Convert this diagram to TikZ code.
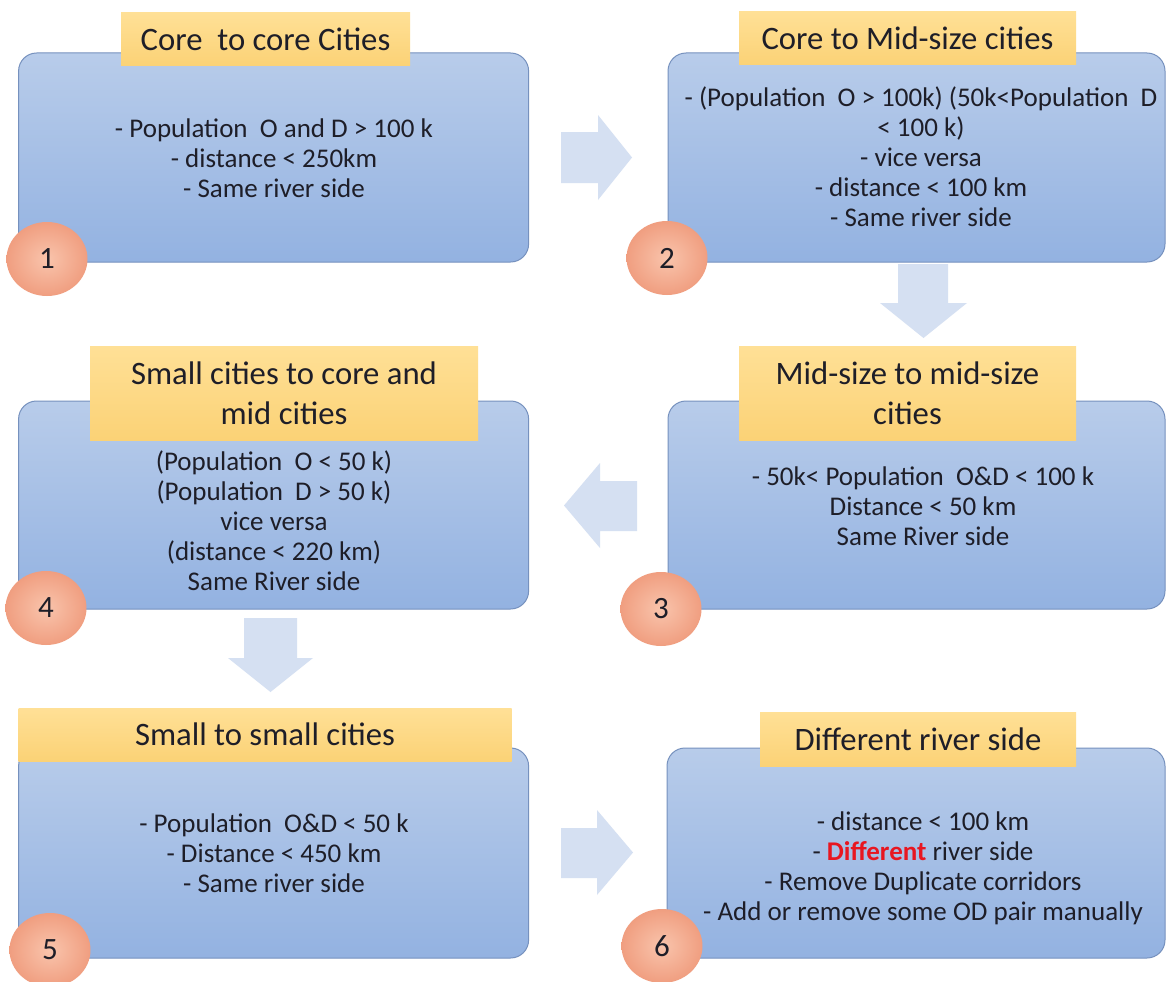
\documentclass[tikz,border=0pt]{standalone}
\usepackage{fontspec}
\setmainfont{Carlito}
\usetikzlibrary{shapes.geometric}
\definecolor{paneltop}{RGB}{184,204,234}
\definecolor{panelbot}{RGB}{147,178,225}
\definecolor{panelline}{RGB}{118,145,190}
\definecolor{titletop}{RGB}{255,224,150}
\definecolor{titlebot}{RGB}{251,210,118}
\definecolor{numin}{RGB}{249,196,172}
\definecolor{numout}{RGB}{240,158,128}
\definecolor{arrowfill}{RGB}{213,224,242}
\definecolor{txt}{RGB}{30,30,40}
\definecolor{hot}{RGB}{232,22,32}
\begin{document}
\begin{tikzpicture}[x=1pt,y=-1pt,
  panel/.style={draw=panelline, line width=1pt, rounded corners=18pt,
    top color=paneltop, bottom color=panelbot, inner sep=0pt, outer sep=0pt,
    anchor=north west},
  titlebox/.style={top color=titletop, bottom color=titlebot, inner sep=0pt,
    outer sep=0pt, anchor=north west, align=center, text=txt,
    font=\fontsize{32.7}{40}\selectfont},
  numdisc/.style={ellipse, inner color=numin, outer color=numout, minimum width=81pt,
    minimum height=74pt, inner sep=0pt, text=txt, font=\fontsize{31}{34}\selectfont},
  bodytext/.style={align=center, inner sep=0pt, text=txt,
    font=\fontsize{27}{30}\selectfont},
  blockarrow/.style={fill=arrowfill, draw=none}]
\useasboundingbox (0,0) rectangle (1167,982);
\fill[white] (0,0) rectangle (1167,982);

% panels
\node[panel, minimum width=510pt, minimum height=209pt] (b1) at (18.6,53) {};
\node[panel, minimum width=497pt, minimum height=209pt] (b2) at (668,53) {};
\node[panel, minimum width=497pt, minimum height=208pt] (b3) at (668,401) {};
\node[panel, minimum width=510pt, minimum height=208pt] (b4) at (18.6,401) {};
\node[panel, minimum width=510pt, minimum height=210pt] (b5) at (18.6,748) {};
\node[panel, minimum width=498pt, minimum height=210pt] (b6) at (667,748) {};

% titles
\node[titlebox, minimum width=289pt, minimum height=53pt] (t1) at (121,13) {Core~ to core Cities};
\node[titlebox, minimum width=337pt, minimum height=53pt] (t2) at (739,12) {Core to Mid-size cities};
\node[titlebox, minimum width=337pt, minimum height=94pt] (t3) at (739,346) {Mid-size to mid-size\\cities};
\node[titlebox, minimum width=388pt, minimum height=94pt] (t4) at (90,346) {Small cities to core and\\mid cities};
\node[titlebox, minimum width=493pt, minimum height=53pt] (t5) at (18.6,708) {Small to small cities};
\node[titlebox, minimum width=316pt, minimum height=54pt] (t6) at (760,712) {Different river side};

% body texts
\node[bodytext] (d1) at (274,158) {- Population~ O and D > 100 k\\- distance < 250km\\- Same river side};
\node[bodytext] (d2) at (921,157) {- (Population~ O > 100k) (50k<Population~ D\\< 100 k)\\- vice versa\\- distance < 100 km\\- Same river side};
\node[bodytext] (d3) at (923,506) {- 50k< Population~ O\&D < 100 k\\Distance < 50 km\\Same River side};
\node[bodytext] (d4) at (274,521) {(Population~ O < 50 k)\\(Population~ D > 50 k)\\vice versa\\(distance < 220 km)\\Same River side};
\node[bodytext] (d5) at (274,853) {- Population~ O\&D < 50 k\\- Distance < 450 km\\- Same river side};
\node[bodytext] (d6) at (923,868) {- distance < 100 km\\- {\color{hot}\bfseries Different} river side\\- Remove Duplicate corridors\\- Add or remove some OD pair manually};

% number discs
\node[numdisc] (n1) at (47,259) {1};
\node[numdisc] (n2) at (667,258) {2};
\node[numdisc] (n3) at (661,609) {3};
\node[numdisc] (n4) at (46,608) {4};
\node[numdisc] (n5) at (50,950) {5};
\node[numdisc] (n6) at (662,946) {6};

% block arrows
\path[blockarrow] (561,132) -- (598,132) -- (598,115) -- (632,157.5) -- (598,200) -- (598,183) -- (561,183) -- cycle;
\path[blockarrow] (898,264) -- (948,264) -- (948,303) -- (967,303) -- (923.5,338) -- (880,303) -- (898,303) -- cycle;
\path[blockarrow] (637,481) -- (600,481) -- (600,463) -- (564,505.5) -- (600,548) -- (600,531) -- (637,531) -- cycle;
\path[blockarrow] (244,618) -- (297,618) -- (297,658) -- (313,658) -- (270.5,692) -- (228,658) -- (244,658) -- cycle;
\path[blockarrow] (561,828) -- (597,828) -- (597,810) -- (633,852.5) -- (597,895) -- (597,878) -- (561,878) -- cycle;
\end{tikzpicture}
\end{document}
